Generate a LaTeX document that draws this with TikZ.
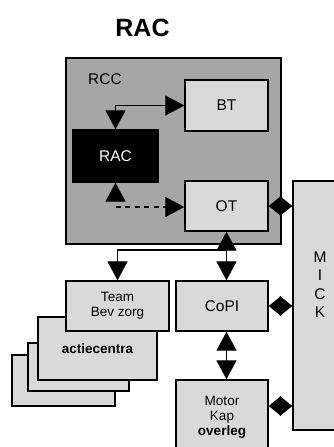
\documentclass[tikz,border=0pt]{standalone}
\usepackage{fontspec}
\setmainfont{Liberation Sans}
\usetikzlibrary{arrows.meta}

\begin{document}
\begin{tikzpicture}[x=1pt, y=-1pt,
	>={Triangle[length=19pt, width=20pt]},
	box/.style={draw, line width=1.4pt, fill=black!15, inner sep=0pt,
		font=\fontsize{15.5}{18}\selectfont, align=center},
	smallbox/.style={box, font=\fontsize{13.5}{15}\selectfont},
	conn/.style={line width=1.3pt},
	short/.style={{Triangle[length=12.5pt, width=20pt]}-{Triangle[length=12.5pt, width=20pt]}}]
	\useasboundingbox (0,0) rectangle (333,447);
	\node [font=\bfseries\fontsize{25}{30}\selectfont] (title) at (142.5,28) {RAC};
	% centre
	\node [box, fill=black!35, minimum width=215, minimum height=186] (RCC) at (173.5,151) {};
	\node [anchor=west, inner sep=0pt, font=\fontsize{15.5}{18}\selectfont] (rcclabel) at (88,79) {RCC};
	\node [box, minimum width=83, minimum height=51] (BT) at (226.5,105.5) {BT};
	\node [box, fill=black, text=white, minimum width=85, minimum height=52] (RAC) at (115.5,156) {RAC};
	\node [box, minimum width=83, minimum height=50] (OT) at (226.5,206) {OT};
	\node [box, minimum width=54, minimum height=249] (MICK) at (320,305.5) {};
	\node [font=\fontsize{15.5}{18.5}\selectfont, align=center] (micklabel) at ([yshift=21pt]MICK.center) {M\\I\\C\\K};
	% stacked boxes
	\node [smallbox, minimum width=103, minimum height=51] (back) at (63.5,380.5) {};
	\node [smallbox, minimum width=101, minimum height=48] (middle) at (78.5,367) {};
	\node [smallbox, font=\bfseries\fontsize{13.5}{15}\selectfont, minimum width=119, minimum height=63] (front) at (97.5,348.5) {\raisebox{-6pt}{actiecentra}};
	\node [smallbox, minimum width=103, minimum height=50] (Team) at (117.5,306) {Team\\Bev zorg};
	\node [box, minimum width=92, minimum height=50] (CoPI) at (222,306) {CoPI};
	\node [smallbox, minimum width=92, minimum height=74] (Motor) at (222,417) {Motor\\Kap\\\textbf{overleg}};
	% connectors
	\draw [conn, <->] (RAC.north) |- (BT.west);
	\coordinate (dstart) at (115.5,207);
	\coordinate (dup) at (115.5,199);
	\draw [conn, dash pattern=on 5pt off 4.5pt, ->] (dstart) -- (dstart -| OT.west);
	\draw [conn, ->] (dup) -- (RAC.south);
	\draw [conn, <->] (OT.south) -- (OT.south |- CoPI.north);
	\coordinate (split) at (226.5,250);
	\draw [conn, ->] (split) -| (Team.north);
	\draw [conn, <->] (CoPI.south -| OT.south) -- (Motor.north -| OT.south);
	\draw [conn, short] (OT.east) -- (OT.east -| MICK.west);
	\draw [conn, short] (CoPI.east) -- (CoPI.east -| MICK.west);
	\draw [conn, short] ([yshift=11pt]Motor.east) -- ([yshift=11pt]Motor.east -| MICK.west);
\end{tikzpicture}
\end{document}
